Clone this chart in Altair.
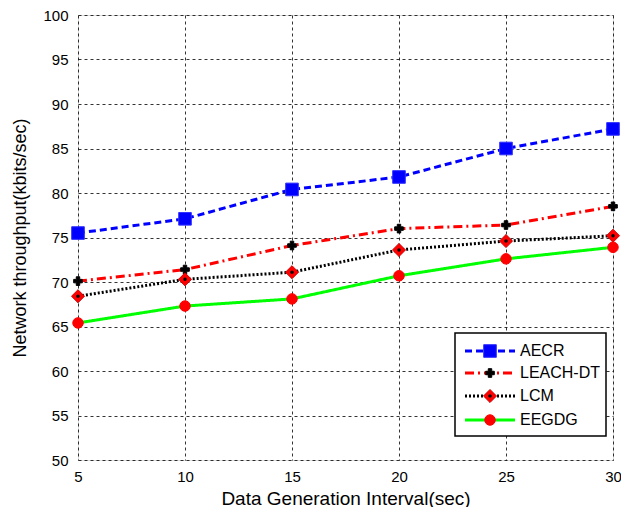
import altair as alt
import pandas as pd

# ---- data ----
intervals = [5, 10, 15, 20, 25, 30]
aecr = [75.5, 77.1, 80.4, 81.8, 85.0, 87.2]
leach_dt = [70.1, 71.4, 74.1, 76.0, 76.4, 78.5]
lcm = [68.4, 70.3, 71.1, 73.6, 74.6, 75.2]
eegdg = [65.4, 67.3, 68.1, 70.7, 72.6, 73.9]

series_names = ["AECR", "LEACH-DT", "LCM", "EEGDG"]
series_values = [aecr, leach_dt, lcm, eegdg]

x_ticks = [5, 10, 15, 20, 25, 30]
y_ticks = [50, 55, 60, 65, 70, 75, 80, 85, 90, 95, 100]

rows = []
for name, vals in zip(series_names, series_values):
    for x, v in zip(intervals, vals):
        rows.append({"series": name, "interval": x, "throughput": v})
df = pd.DataFrame(rows)

FONT = "Liberation Sans"
W, H = 535, 445

xenc = alt.X("interval:Q",
             scale=alt.Scale(domain=[5, 30], nice=False, zero=False),
             axis=alt.Axis(values=x_ticks, title="Data Generation Interval(sec)",
                           grid=True, gridColor="black", gridDash=[3, 3], gridWidth=0.8,
                           domain=False, ticks=True, tickSize=0, labelPadding=9,
                           labelFontSize=15, labelColor="black", labelFont=FONT,
                           titleFontSize=19, titleFont=FONT, titleFontWeight="normal",
                           titleColor="black", titlePadding=5, labelFlush=False))
yenc = alt.Y("throughput:Q",
             scale=alt.Scale(domain=[50, 100], nice=False, zero=False),
             axis=alt.Axis(values=y_ticks, title="Network throughput(kbits/sec)",
                           grid=True, gridColor="black", gridDash=[3, 3], gridWidth=0.8,
                           domain=False, ticks=True, tickSize=0, labelPadding=10,
                           labelFontSize=15, labelColor="black", labelFont=FONT,
                           titleFontSize=18, titleFont=FONT, titleFontWeight="normal",
                           titleColor="black", titlePadding=13))

styles = {
    "AECR": dict(color="#0000FF", dash=[7, 4], shape="square", fill="#0000FF",
                 stroke="#3333FF", size=160),
    "LEACH-DT": dict(color="#FF0000", dash=[9, 4, 2, 4], shape="cross", fill="black",
                     stroke="black", size=75),
    "LCM": dict(color="black", dash=[2, 2], shape="diamond", fill="#FF0000",
                stroke="#CC0000", size=170),
    "EEGDG": dict(color="#00FF00", dash=[1, 0], shape="circle", fill="#FF0000",
                  stroke="#FF0000", size=110),
}

base = alt.Chart(df)
layers = []
for name in series_names:
    st = styles[name]
    sub = base.transform_filter(alt.datum.series == name)
    layers.append(sub.mark_line(color=st["color"], strokeWidth=3,
                                strokeDash=st["dash"]).encode(x=xenc, y=yenc))
for name in series_names:
    st = styles[name]
    sub = base.transform_filter(alt.datum.series == name)
    layers.append(sub.mark_point(shape=st["shape"], filled=True, fill=st["fill"],
                                 stroke=st["stroke"], strokeWidth=1, size=st["size"],
                                 opacity=1).encode(x=xenc, y=yenc))
    if name == "LCM":
        layers.append(sub.mark_point(shape="circle", filled=True, fill="black",
                                     size=12, opacity=1).encode(x=xenc, y=yenc))

# ---- custom legend (pixel positions inside the plot area) ----
box = alt.Chart(pd.DataFrame({"k": [0]})).mark_rect(
    fill="white", stroke="black", strokeWidth=1.5).encode(
    x=alt.value(377), x2=alt.value(528), y=alt.value(318), y2=alt.value(421))
layers.append(box)
row_y = [336, 358, 381, 405]
for name, ry in zip(series_names, row_y):
    st = styles[name]
    one = alt.Chart(pd.DataFrame({"label": [name]}))
    layers.append(one.mark_rule(color=st["color"], strokeWidth=3,
                                strokeDash=st["dash"]).encode(
        x=alt.value(387), x2=alt.value(437), y=alt.value(ry)))
    layers.append(one.mark_point(shape=st["shape"], filled=True, fill=st["fill"],
                                 stroke=st["stroke"], strokeWidth=1, size=st["size"],
                                 opacity=1).encode(x=alt.value(412), y=alt.value(ry)))
    if name == "LCM":
        layers.append(one.mark_point(shape="circle", filled=True, fill="black",
                                     size=12, opacity=1).encode(x=alt.value(412), y=alt.value(ry)))
    layers.append(one.mark_text(align="left", baseline="middle", font=FONT,
                                fontSize=16, color="black").encode(
        x=alt.value(442), y=alt.value(ry), text="label:N"))

chart = alt.layer(*layers).properties(
    width=W, height=H,
    autosize=alt.AutoSizeParams(type="none"),
    padding={"left": 70, "top": 7, "right": 8, "bottom": 47},
).configure_view(stroke="black", strokeWidth=1.5).configure(background="white")

chart.save("out.html", embed_options={"renderer": "svg", "actions": False})
